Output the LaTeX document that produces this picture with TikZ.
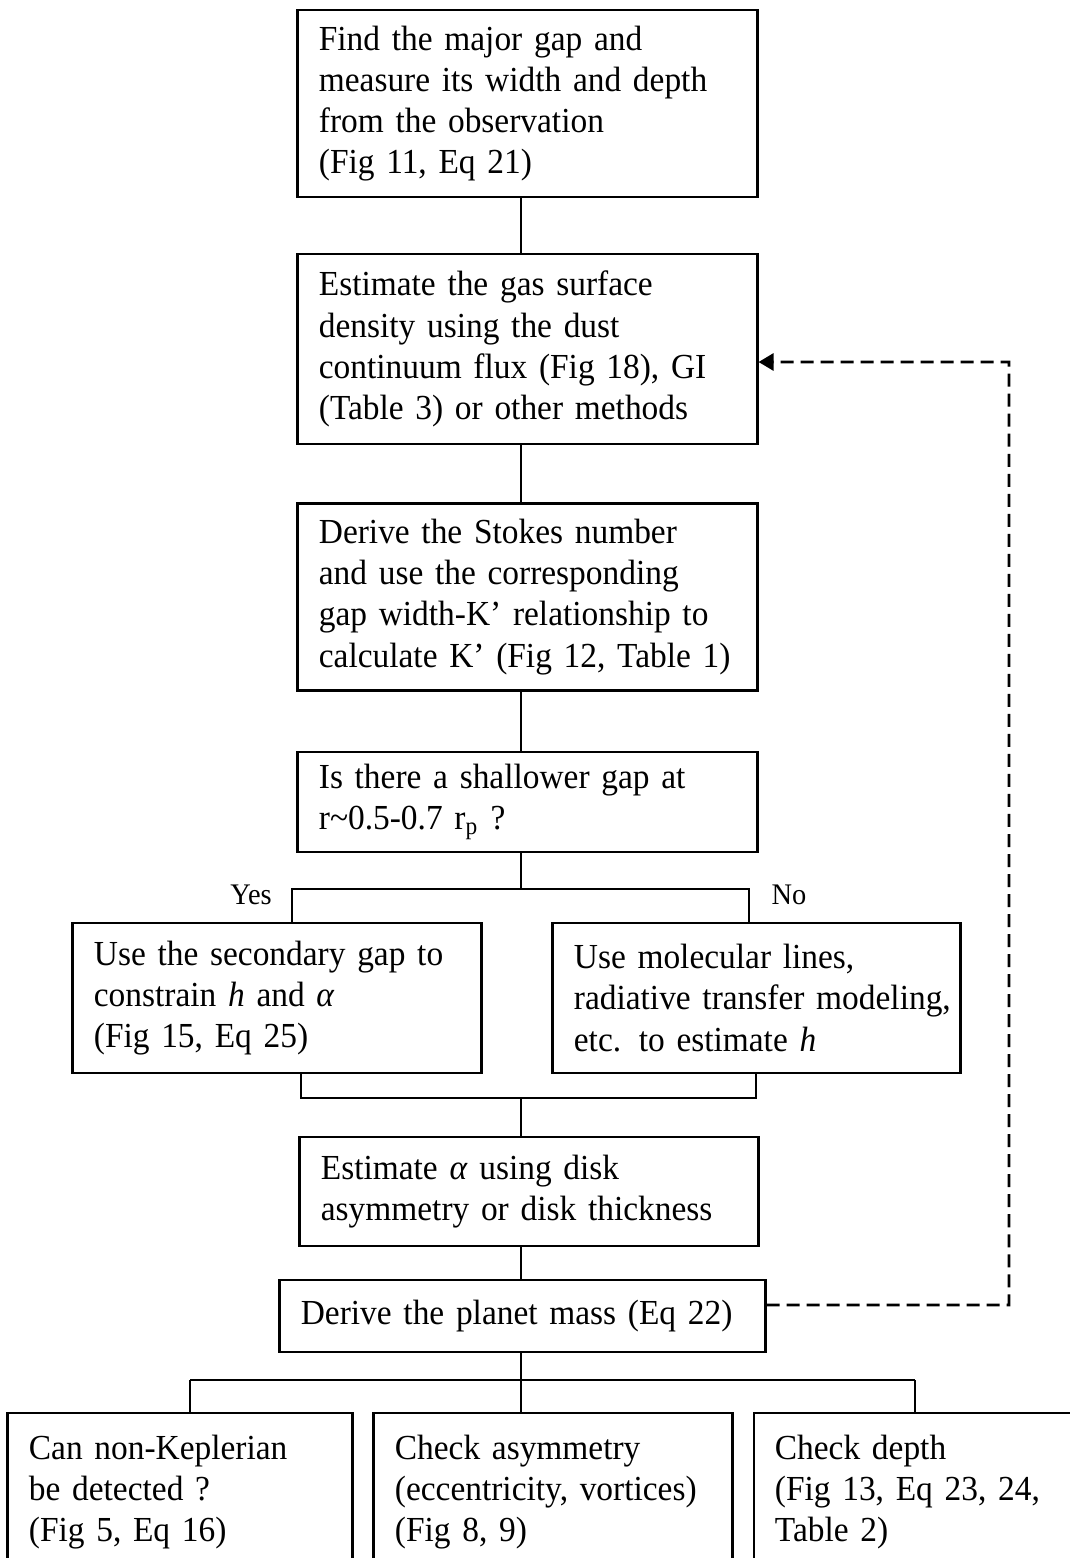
\documentclass[tikz,border=0pt]{standalone}
\usepackage{fontspec}
\setmainfont{Liberation Serif}[FakeStretch=0.95]
\usetikzlibrary{arrows.meta}
\hyphenpenalty=10000
\exhyphenpenalty=10000

\begin{document}
\begin{tikzpicture}[x=0.01cm,y=-0.01cm,
  stepbox/.style={draw,line width=0.8pt,align=left,inner xsep=0.21cm,inner ysep=0pt,font=\fontsize{10}{11.7}\selectfont},
  branchlabel/.style={anchor=base,inner sep=0pt,font=\fontsize{8.5}{10}\selectfont},
  link/.style={line width=0.8pt},
  loopline/.style={line width=0.8pt,dash pattern=on 0.13cm off 0.07cm,-{Triangle[length=0.15cm,width=0.17cm]}}]
\useasboundingbox (0,0) rectangle (1070,1558);
\clip (0,0) rectangle (1070,1558);

\node[stepbox,text width=4.17cm,minimum height=1.87cm] (find) at (527.5,103.5) {Find the major gap and\\measure its width and depth\\from the observation\\(Fig 11, Eq 21)};
\node[stepbox,text width=4.17cm,minimum height=1.90cm] (gas) at (527.5,349) {Estimate the gas surface\\density using the dust\\continuum flux (Fig 18), GI\\(Table 3) or other methods};
\node[stepbox,text width=4.17cm,minimum height=1.87cm] (stokes) at (527.5,597) {Derive the Stokes number\\and use the corresponding\\gap width-K' relationship to\\calculate~K'~(Fig~12,~Table~1)};
\node[stepbox,text width=4.17cm,minimum height=1.00cm] (shallow) at (527.5,802) {Is there a shallower gap at\\r\textasciitilde 0.5-0.7 r\textsubscript{p} ?};

\node[stepbox,text width=3.66cm,minimum height=1.50cm] (second) at (277,998) {Use the secondary gap to\\constrain \textit{h} and \textit{α}\\(Fig 15, Eq 25)};
\node[stepbox,text width=3.65cm,minimum height=1.50cm] (molec) at (756.5,998) {Use molecular lines,\\radiative~transfer~modeling,\\etc. to estimate \textit{h}};

\node[stepbox,text width=4.16cm,minimum height=1.09cm] (alpha) at (529,1191.5) {Estimate \textit{α} using disk\\asymmetry or disk thickness};
\node[stepbox,text width=4.43cm,minimum height=0.72cm] (mass) at (522.5,1316) {Derive~the~planet~mass~(Eq~22)};

\node[stepbox,text width=3.02cm,minimum height=1.58cm] (can) at (180,1492) {Can non-Keplerian\\be detected ?\\(Fig 5, Eq 16)};
\node[stepbox,text width=3.16cm,minimum height=1.58cm] (asym) at (553,1492) {Check asymmetry\\(eccentricity,~vortices)\\(Fig 8, 9)};
\node[stepbox,text width=3.04cm,minimum height=1.58cm] (depth) at (927,1492) {Check depth\\(Fig 13, Eq 23, 24,\\Table 2)};

\node[branchlabel] (yes) at (251,904) {Yes};
\node[branchlabel] (no) at (789,904) {No};

\coordinate (trunk) at (521,0);
\coordinate (yesx) at (292,889);
\coordinate (nox) at (749,889);
\coordinate (mergel) at (301,1098);
\coordinate (merger) at (756,1098);
\coordinate (forka) at (190,1380);
\coordinate (forkc) at (915,1380);
\coordinate (loop) at (1009,362);

\draw[link] (find.south -| trunk) -- (gas.north -| trunk);
\draw[link] (gas.south -| trunk) -- (stokes.north -| trunk);
\draw[link] (stokes.south -| trunk) -- (shallow.north -| trunk);
\draw[link] (shallow.south -| trunk) |- (yesx) -- (yesx |- second.north);
\draw[link] (shallow.south -| trunk) |- (nox) -- (nox |- molec.north);
\draw[link] (second.south -| mergel) -- (mergel) -- (merger) -- (molec.south -| merger);
\draw[link] (mergel -| trunk) -- (alpha.north -| trunk);
\draw[link] (alpha.south -| trunk) -- (mass.north -| trunk);
\draw[link] (mass.south -| trunk) -- (forka -| trunk);
\draw[link] (forka) -- (forkc);
\draw[link] (forka) -- (forka |- can.north);
\draw[link] (forka -| trunk) -- (trunk |- asym.north);
\draw[link] (forkc) -- (forkc |- depth.north);

\draw[loopline] ([yshift=0.11cm]mass.east) -| (loop) -- ([yshift=-0.13cm]gas.east);

\end{tikzpicture}
\end{document}
